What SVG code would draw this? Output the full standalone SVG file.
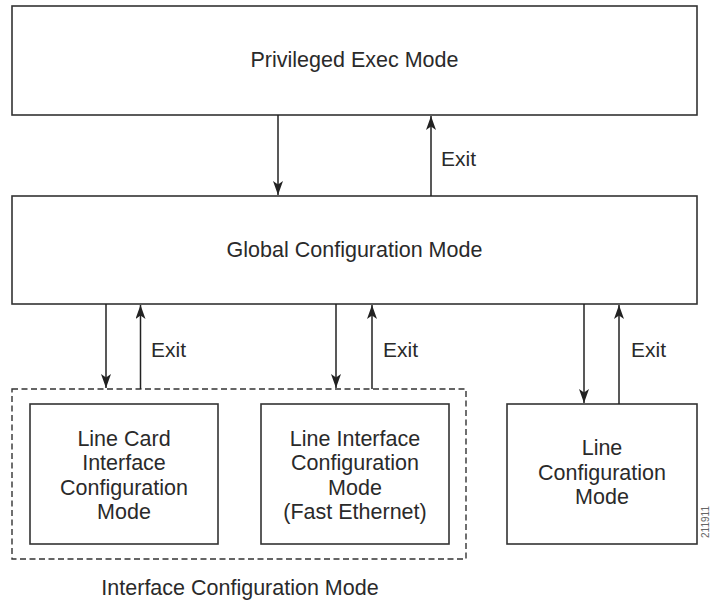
<svg xmlns="http://www.w3.org/2000/svg" width="711" height="602" viewBox="0 0 711 602">
<style>
.box{fill:#fff;stroke:#333;stroke-width:1.6}
.dash{fill:none;stroke:#333;stroke-width:1.4;stroke-dasharray:6 3.5}
.t{font-family:"Liberation Sans",Arial,sans-serif;font-size:21.5px;fill:#2a2a2a;text-anchor:middle}
.lbl{font-family:"Liberation Sans",Arial,sans-serif;font-size:21px;fill:#2a2a2a}
.c{stroke:#222;stroke-width:1.5;fill:none;marker-end:url(#ah)}
.id{font-family:"Liberation Sans",Arial,sans-serif;font-size:10px;fill:#666;text-anchor:middle}
</style>
<defs>
<marker id="ah" viewBox="0 0 14 10" refX="14" refY="5" markerWidth="14" markerHeight="10" markerUnits="userSpaceOnUse" orient="auto">
<path d="M0,0 L14,5 L0,10 L3.5,5 Z" fill="#222"/>
</marker>
</defs>
<rect width="711" height="602" fill="#fff"/>
<g id="privileged">
<rect class="box" x="12" y="6" width="685" height="109"/>
<text class="t" x="354.5" y="66.5">Privileged Exec Mode</text>
</g>
<g id="global">
<rect class="box" x="12" y="196" width="685" height="108"/>
<text class="t" x="354.5" y="257">Global Configuration Mode</text>
</g>
<g id="interface-group">
<rect class="dash" x="12" y="389" width="454" height="170"/>
<text class="t" x="240" y="595">Interface Configuration Mode</text>
</g>
<g id="linecard">
<rect class="box" x="30" y="404" width="188" height="140"/>
<text class="t" x="124" y="445.5">Line Card</text>
<text class="t" x="124" y="470">Interface</text>
<text class="t" x="124" y="494.5">Configuration</text>
<text class="t" x="124" y="519">Mode</text>
</g>
<g id="lineinterface">
<rect class="box" x="261" y="404" width="188" height="140"/>
<text class="t" x="355" y="445.5">Line Interface</text>
<text class="t" x="355" y="470">Configuration</text>
<text class="t" x="355" y="494.5">Mode</text>
<text class="t" x="355" y="519">(Fast Ethernet)</text>
</g>
<g id="line">
<rect class="box" x="507" y="404" width="190" height="140"/>
<text class="t" x="602" y="455">Line</text>
<text class="t" x="602" y="479.5">Configuration</text>
<text class="t" x="602" y="504">Mode</text>
</g>
<g id="connectors">
<line class="c" x1="278" y1="115" x2="278" y2="195"/>
<line class="c" x1="431" y1="196" x2="431" y2="116"/>
<line class="c" x1="106" y1="304" x2="106" y2="388"/>
<line class="c" x1="140.5" y1="389" x2="140.5" y2="305"/>
<line class="c" x1="336" y1="304" x2="336" y2="388"/>
<line class="c" x1="372" y1="389" x2="372" y2="305"/>
<line class="c" x1="584" y1="304" x2="584" y2="403"/>
<line class="c" x1="619" y1="404" x2="619" y2="305"/>
<text class="lbl" x="441" y="166">Exit</text>
<text class="lbl" x="151" y="357">Exit</text>
<text class="lbl" x="383" y="357">Exit</text>
<text class="lbl" x="631" y="357">Exit</text>
</g>
<text class="id" transform="translate(709,522) rotate(-90)">211911</text>
</svg>
